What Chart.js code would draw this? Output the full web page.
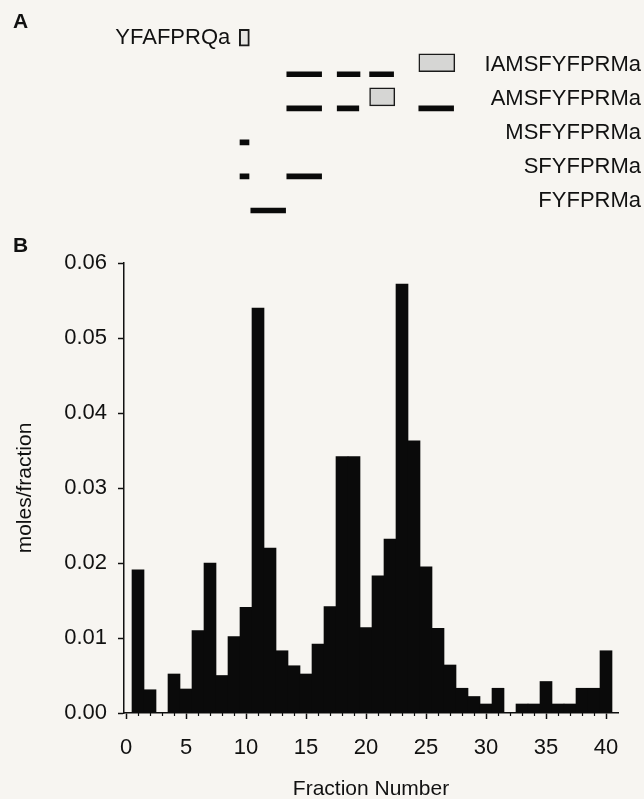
<!DOCTYPE html>
<html>
<head>
<meta charset="utf-8">
<script src="https://cdn.jsdelivr.net/npm/chart.js@4.4.1/dist/chart.umd.min.js"></script>
<style>
  html, body { margin: 0; padding: 0; background: #f7f5f1; }
  #wrap { position: relative; width: 644px; height: 799px; overflow: hidden; }
  canvas { position: absolute; left: 0; top: 0; }
  .panel { position: absolute; font: bold 21px "Liberation Sans", Arial, sans-serif; color: #111; }
</style>
</head>
<body>
<div id="wrap">
  <canvas id="chartB" width="644" height="799"></canvas>
  <canvas id="chartA" width="644" height="799"></canvas>
  <div class="panel" style="left:13px; top:9px;">A</div>
  <div class="panel" style="left:13px; top:233px;">B</div>
</div>
<script>
// Panel B: histogram of moles per fraction
const fractions = [1, 2, 3, 4, 5, 6, 7, 8, 9, 10, 11, 12, 13, 14, 15, 16, 17, 18, 19, 20,
                   21, 22, 23, 24, 25, 26, 27, 28, 29, 30, 31, 32, 33, 34, 35, 36, 37, 38, 39, 40];
const moles = [0.0191, 0.0031, 0, 0.0052, 0.0032, 0.011, 0.020, 0.005, 0.0102, 0.0141,
               0.054, 0.022, 0.0083, 0.0063, 0.0052, 0.0092, 0.0142, 0.0342, 0.0342, 0.0114,
               0.0183, 0.0232, 0.0572, 0.0363, 0.0195, 0.0113, 0.0064, 0.0033, 0.0022, 0.0012,
               0.0033, 0, 0.0012, 0.0012, 0.0042, 0.0012, 0.0012, 0.0033, 0.0033, 0.0083];
const xTicks = [0, 5, 10, 15, 20, 25, 30, 35, 40];
const yTicks = [0, 0.01, 0.02, 0.03, 0.04, 0.05, 0.06];

// Panel A: where each peptide elutes (fraction units)
const peptides = ['YFAFPRQa', 'IAMSFYFPRMa', 'AMSFYFPRMa', 'MSFYFPRMa', 'SFYFPRMa', 'FYFPRMa'];
const dashPeptide = [1, 1, 1, 2, 2, 2, 3, 4, 4, 5];
const dashStart = [13.4, 17.6, 20.3, 13.4, 17.6, 24.4, 9.5, 9.5, 13.4, 10.4];
const dashEnd = [16.3, 19.5, 22.3, 16.3, 19.4, 27.3, 10.25, 10.25, 16.3, 13.3];
const boxPeptide = [1, 2];
const boxStart = [24.4, 20.3];
const boxEnd = [27.4, 22.4];
const stdPeptide = [0];
const stdStart = [9.44];
const stdEnd = [10.28];

const FONT = '"Liberation Sans", Arial, sans-serif';
const INK = '#111';
const X_MIN = -0.167, X_MAX = 41;
// panel A spans to the label edge (641px) at the same 12px per fraction
const X_MAX_A = X_MIN + (641 - 124) / 12;

// short ticks at every fraction, drawn on the library's x scale
const minorTicks = {
    id: 'minorTicks',
    afterDraw(chart) {
        const sx = chart.scales.x, ctx = chart.ctx;
        const y0 = chart.chartArea.bottom;
        ctx.save();
        ctx.strokeStyle = INK;
        ctx.lineWidth = 1.2;
        for (let i = 0; i <= 40; i++) {
            if (i % 5 === 0) continue;
            const px = Math.round(sx.getPixelForValue(i)) + 0.5;
            ctx.beginPath();
            ctx.moveTo(px, y0);
            ctx.lineTo(px, y0 + 3);
            ctx.stroke();
        }
        ctx.restore();
    }
};

new Chart(document.getElementById('chartB'), {
    type: 'bar',
    data: {
        datasets: [{
            data: fractions.map((f, i) => ({ x: f, y: moles[i] })),
            backgroundColor: '#0a0a0a',
            borderWidth: 0,
            barPercentage: 1,
            categoryPercentage: 1
        }]
    },
    options: {
        responsive: false,
        animation: false,
        layout: { padding: { top: 263, right: 26, bottom: 0, left: 0 } },
        plugins: { legend: { display: false }, tooltip: { enabled: false } },
        scales: {
            x: {
                type: 'linear',
                min: X_MIN,
                max: X_MAX,
                offset: false,
                afterBuildTicks: s => { s.ticks = xTicks.map(v => ({ value: v })); },
                afterFit: s => { s.height = 86; },
                grid: { offset: false, drawOnChartArea: false, tickLength: 6, color: INK, tickWidth: 1.5 },
                border: { display: true, color: INK, width: 1.5 },
                ticks: { color: INK, padding: 16, maxRotation: 0, autoSkip: false, font: { family: FONT, size: 22 } },
                title: {
                    display: true, text: 'Fraction Number', color: INK, padding: 0,
                    font: { family: FONT, size: 21, lineHeight: 0.9 }
                }
            },
            y: {
                min: 0,
                max: 0.06,
                afterBuildTicks: s => { s.ticks = yTicks.map(v => ({ value: v })); },
                afterFit: s => { s.width = 124; },
                grid: { drawOnChartArea: false, tickLength: 6, color: INK, tickWidth: 1.5 },
                border: { display: true, color: INK, width: 1.5 },
                ticks: { color: INK, padding: 11, callback: v => v.toFixed(2), font: { family: FONT, size: 22 } },
                title: {
                    display: true, text: 'moles/fraction', color: INK, padding: { top: 13, bottom: 0 },
                    font: { family: FONT, size: 21 }
                }
            }
        }
    },
    plugins: [minorTicks]
});

// label of the standard, written left of its box
const stdLabel = {
    id: 'stdLabel',
    afterDatasetsDraw(chart) {
        const el = chart.getDatasetMeta(2).data[0];
        if (!el) return;
        const ctx = chart.ctx;
        ctx.save();
        ctx.font = '22px ' + FONT;
        ctx.fillStyle = INK;
        ctx.textAlign = 'right';
        ctx.textBaseline = 'middle';
        ctx.fillText(peptides[stdPeptide[0]], Math.min(el.x, el.base) - 9, el.y);
        ctx.restore();
    }
};

new Chart(document.getElementById('chartA'), {
    type: 'bar',
    data: {
        labels: peptides,
        datasets: [{
            data: boxPeptide.map((p, i) => ({ y: peptides[p], x: [boxStart[i], boxEnd[i]] })),
            backgroundColor: '#d6d6d4',
            borderColor: '#1a1a1a',
            borderWidth: 1.5,
            borderSkipped: false,
            barThickness: 18
        }, {
            data: dashPeptide.map((p, i) => ({ y: peptides[p], x: [dashStart[i], dashEnd[i]] })),
            backgroundColor: '#0a0a0a',
            borderWidth: 0,
            barThickness: 5
        }, {
            data: stdPeptide.map((p, i) => ({ y: peptides[p], x: [stdStart[i], stdEnd[i]] })),
            backgroundColor: '#e6e5e2',
            borderColor: '#1a1a1a',
            borderWidth: 2,
            borderSkipped: false,
            barThickness: 17,
            grouped: false
        }]
    },
    options: {
        indexAxis: 'y',
        responsive: false,
        animation: false,
        layout: { padding: { top: 20.7, right: 3, bottom: 574, left: 124 } },
        plugins: { legend: { display: false }, tooltip: { enabled: false } },
        scales: {
            x: { type: 'linear', min: X_MIN, max: X_MAX_A, display: false },
            y: {
                position: 'right',
                afterFit: s => { s.width = 0; },
                grid: { display: false },
                border: { display: false },
                ticks: {
                    color: INK, mirror: true, crossAlign: 'near', labelOffset: -7, padding: 0,
                    font: { family: FONT, size: 22 },
                    callback: function (v, i) { return i === 0 ? '' : this.getLabelForValue(v); }
                }
            }
        }
    },
    plugins: [stdLabel]
});
</script>
</body>
</html>
